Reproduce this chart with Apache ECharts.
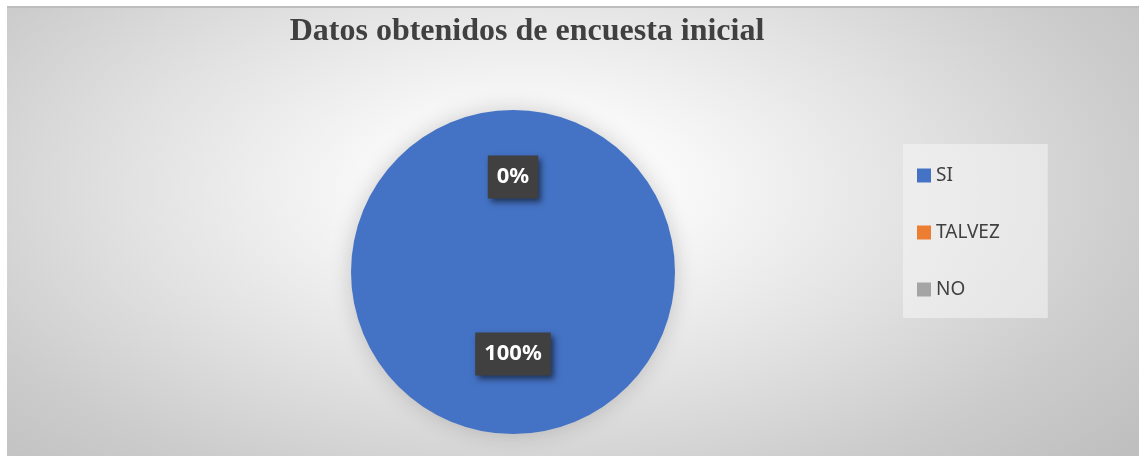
<!DOCTYPE html>
<html>
<head>
<meta charset="utf-8">
<script src="https://cdn.jsdelivr.net/npm/echarts@6/dist/echarts.min.js"></script>
<style>
  html, body { margin: 0; padding: 0; background: #ffffff; width: 1139px; height: 461px; overflow: hidden; }
  #bg { position: absolute; left: 7px; top: 6px; width: 1132px; height: 450px;
        border-top: 2px solid #bdbdbd; box-sizing: border-box;
        background: radial-gradient(ellipse 70% 90% at 46% 40%, #ffffff 0%, #f8f8f8 20%, #e2e2e2 50%, #cccccc 78%, #bfbfbf 100%); }
  #chart { position: absolute; left: 0; top: 0; width: 1139px; height: 461px; }
</style>
</head>
<body>
<div id="bg"></div>
<div id="chart"></div>
<script>
const titleText = 'Datos obtenidos de encuesta inicial';
const categories = ['SI', 'TALVEZ', 'NO'];
const values = [100, 0, 0];
const colors = ['#4472C4', '#ED7D31', '#A5A5A5'];

const chart = echarts.init(document.getElementById('chart'), null, { renderer: 'canvas' });
const total = values.reduce((a, b) => a + b, 0);

const labelBox = {
  show: true,
  position: 'inside',
  formatter: p => Math.round(p.value / total * 100) + '%',
  color: '#ffffff',
  fontFamily: 'Noto Sans',
  fontWeight: 'bold',
  fontSize: 22,
  backgroundColor: '#404040',
  padding: [9, 9, 9, 9],
  lineHeight: 25,
  shadowColor: 'rgba(0,0,0,0.55)',
  shadowBlur: 6,
  shadowOffsetX: 3,
  shadowOffsetY: 3
};

chart.setOption({
  backgroundColor: 'transparent',
  animation: false,
  title: {
    text: titleText,
    left: 522,
    textAlign: 'center',
    top: 11,
    textStyle: { fontFamily: 'Liberation Serif', fontWeight: 'bold', fontSize: 32, color: '#404040' }
  },
  legend: {
    orient: 'vertical',
    left: 903,
    top: 144,
    data: categories,
    icon: 'rect',
    itemWidth: 14,
    itemHeight: 14,
    itemGap: 38,
    padding: [22, 48, 19, 14],
    backgroundColor: 'rgba(245,245,245,0.55)',
    textStyle: { fontFamily: 'Noto Sans', fontSize: 19, color: '#404040' }
  },
  series: [{
    type: 'pie',
    center: [513, 272],
    radius: [0, 162],
    startAngle: 90,
    clockwise: true,
    stillShowZeroSum: true,
    avoidLabelOverlap: false,
    minShowLabelAngle: 0,
    label: labelBox,
    labelLine: { show: false },
    itemStyle: { shadowBlur: 22, shadowColor: 'rgba(0,0,0,0.18)' },
    emphasis: { disabled: true },
    data: categories.map((c, i) => ({
      name: c,
      value: values[i],
      itemStyle: { color: colors[i] },
      label: i === 0 ? { offset: [0, -2] } : { offset: [0, -11] }
    }))
  }]
});
</script>
</body>
</html>
